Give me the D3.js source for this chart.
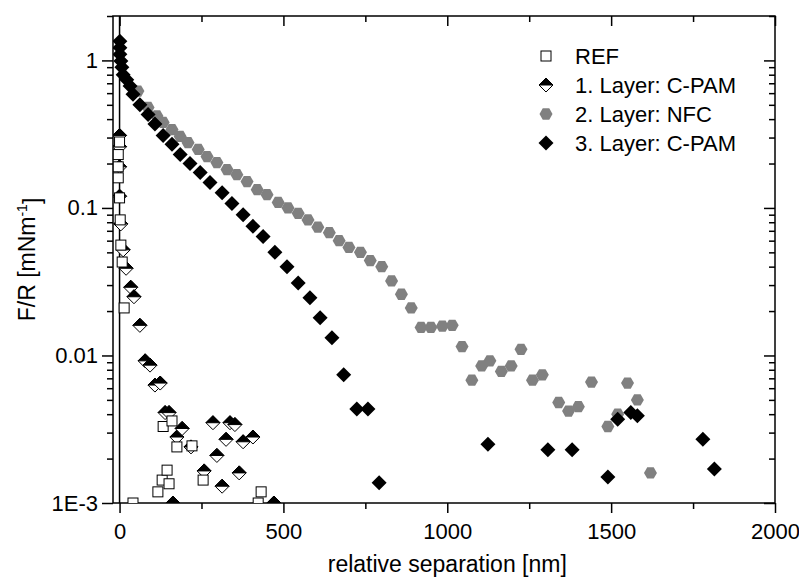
<!DOCTYPE html>
<html>
<head>
<meta charset="utf-8">
<script src="https://cdn.jsdelivr.net/npm/d3@7"></script>
<style>
	body { margin: 0; background: #fff; }
	svg { font-family: "Liberation Sans", Arial, sans-serif; }
</style>
</head>
<body>
<svg id="chart" width="799" height="579"></svg>
<script>
// reference (open squares)
var refData = [
	[0, 0.28], [-4, 0.23], [-4, 0.19], [-4, 0.16], [0, 0.117], [2, 0.083], [4, 0.056], [8, 0.043],
	[14, 0.021], [41, 0.001], [117, 0.00119], [130, 0.00143], [133, 0.0033], [145, 0.00167],
	[151, 0.00135], [160, 0.0036], [175, 0.0024], [221, 0.00244], [255, 0.00143], [423, 0.001], [432, 0.00119]
];
// 1. layer C-PAM (half filled diamonds)
var layer1Data = [
	[0, 0.31], [0, 0.26], [0, 0.19], [0, 0.12], [4, 0.078], [11, 0.052], [20, 0.039], [34, 0.029],
	[44, 0.025], [62, 0.016], [78, 0.0092], [93, 0.0086], [108, 0.0063], [124, 0.0065], [139, 0.0041],
	[151, 0.0041], [163, 0.001], [175, 0.0028], [191, 0.0032], [218, 0.0024], [258, 0.00165], [285, 0.0035],
	[297, 0.0021], [313, 0.0013], [325, 0.0027], [337, 0.0035], [352, 0.0034], [365, 0.0016], [377, 0.0026],
	[407, 0.0028], [471, 0.001]
];
// 2. layer NFC (grey hexagons)
var layer2Data = [
	[56, 0.62], [87, 0.48], [114, 0.42], [133, 0.38], [160, 0.34], [185, 0.305], [209, 0.277], [240, 0.249],
	[267, 0.223], [297, 0.203], [328, 0.182], [358, 0.168], [389, 0.151], [420, 0.133], [450, 0.123],
	[484, 0.109], [514, 0.100], [545, 0.092], [575, 0.083], [605, 0.074], [640, 0.068], [670, 0.060],
	[700, 0.054], [735, 0.050], [765, 0.044], [800, 0.040], [830, 0.032], [860, 0.026], [890, 0.021],
	[920, 0.0155], [950, 0.0155], [985, 0.0158], [1015, 0.016], [1045, 0.0115], [1075, 0.0068],
	[1105, 0.0085], [1130, 0.0092], [1165, 0.0078], [1195, 0.0085], [1225, 0.011], [1260, 0.0068],
	[1290, 0.0074], [1340, 0.0048], [1370, 0.0042], [1400, 0.0045], [1440, 0.0066], [1490, 0.0033],
	[1520, 0.004], [1550, 0.0065], [1580, 0.005], [1620, 0.0016]
];
// 3. layer C-PAM (black diamonds)
var layer3Data = [
	[1, 1.35], [1, 1.22], [1, 1.10], [4, 0.99], [7, 0.90], [11, 0.80], [22, 0.74], [32, 0.67], [41, 0.59],
	[62, 0.50], [87, 0.43], [108, 0.37], [133, 0.31], [160, 0.27], [185, 0.23], [215, 0.20], [246, 0.174],
	[276, 0.149], [313, 0.127], [343, 0.107], [377, 0.090], [407, 0.075], [438, 0.064], [474, 0.050],
	[511, 0.040], [545, 0.031], [581, 0.0246], [612, 0.018], [648, 0.0132], [684, 0.0074], [724, 0.00434],
	[758, 0.00434], [792, 0.00137], [1124, 0.0025], [1307, 0.0023], [1381, 0.0023], [1490, 0.0015],
	[1520, 0.0037], [1560, 0.0041], [1580, 0.0039], [1780, 0.0027], [1815, 0.0017]
];
var xTicks = [0, 500, 1000, 1500, 2000];
var yTicks = [1e-3, 1e-2, 1e-1, 1];
var yTickLabels = ["1E-3", "0.01", "0.1", "1"];
var legendNames = ["REF", "1. Layer: C-PAM", "2. Layer: NFC", "3. Layer: C-PAM"];

var margin = {top: 16, right: 24, bottom: 76, left: 113};
var width = 775 - margin.left,
	height = 503 - margin.top;

var svg = d3.select("#chart");

var x = d3.scaleLinear()
	.domain([-20, 2000])
	.range([0, width]);

var y = d3.scaleLog()
	.domain([1e-3, 2])
	.range([height, 0]);

var g = svg.append("g")
	.attr("transform", "translate(" + margin.left + "," + margin.top + ")");

// minor ticks
var yMinor = [];
[1e-3, 1e-2, 1e-1, 1].forEach(function(d) {
	for (var k = 2; k <= 9; k++) {
		if (d * k <= 2) yMinor.push(d * k);
	}
});
var xMinor = [250, 750, 1250, 1750];

var tickFont = 22;

// bottom axis
var xAxis = g.append("g")
	.attr("transform", "translate(0," + height + ")")
	.call(d3.axisBottom(x).tickValues(xTicks).tickSize(10).tickFormat(d3.format("d")));
g.append("g")
	.attr("transform", "translate(0," + height + ")")
	.call(d3.axisBottom(x).tickValues(xMinor).tickSize(6).tickFormat(""));
// top axis, ticks inward
g.append("g")
	.call(d3.axisBottom(x).tickValues(xTicks).tickSize(10).tickFormat(""));
g.append("g")
	.call(d3.axisBottom(x).tickValues(xMinor).tickSize(6).tickFormat(""));
// left axis
var yAxis = g.append("g")
	.call(d3.axisLeft(y).tickValues(yTicks).tickSize(11).tickFormat(function(d, i) { return yTickLabels[i]; }));
g.append("g")
	.call(d3.axisLeft(y).tickValues(yMinor).tickSize(6).tickFormat(""));
// right axis, ticks inward
g.append("g")
	.attr("transform", "translate(" + width + ",0)")
	.call(d3.axisLeft(y).tickValues(yTicks).tickSize(11).tickFormat(""));
g.append("g")
	.attr("transform", "translate(" + width + ",0)")
	.call(d3.axisLeft(y).tickValues(yMinor).tickSize(6).tickFormat(""));

g.selectAll(".domain").remove();
g.selectAll(".tick line").attr("stroke", "#000").attr("stroke-width", 1.5);
g.selectAll(".tick text")
	.attr("fill", "#000")
	.style("font-size", tickFont + "px");
xAxis.selectAll(".tick text").attr("dy", "1.05em");
yAxis.selectAll(".tick text").attr("x", -15);

// frame
g.append("rect")
	.attr("width", width)
	.attr("height", height)
	.attr("fill", "none")
	.attr("stroke", "#000")
	.attr("stroke-width", 1.5);

// zero line
g.append("line")
	.attr("x1", x(0)).attr("x2", x(0))
	.attr("y1", 0).attr("y2", height)
	.attr("stroke", "#000")
	.attr("stroke-width", 1.5);

// axis titles
svg.append("text")
	.attr("x", margin.left + x(1000))
	.attr("y", 572)
	.attr("text-anchor", "middle")
	.style("font-size", "23px")
	.text("relative separation [nm]");

var yTitle = svg.append("text")
	.attr("transform", "translate(35," + (margin.top + height / 2) + ") rotate(-90)")
	.attr("text-anchor", "middle")
	.style("font-size", "23px");
yTitle.append("tspan").text("F/R [mNm");
yTitle.append("tspan").attr("dy", "-0.6em").style("font-size", "14px").text("-1");
yTitle.append("tspan").attr("dy", "0.6em").text("]");

// clip for the markers
svg.append("clipPath").attr("id", "plotclip")
	.append("rect").attr("width", width).attr("height", height);

var plot = g.append("g").attr("clip-path", "url(#plotclip)");

// marker shapes
function squareMark(sel) {
	sel.append("rect")
		.attr("x", -5).attr("y", -5).attr("width", 10).attr("height", 10)
		.attr("fill", "#fff").attr("stroke", "#000").attr("stroke-width", 1);
}
function halfDiamondMark(sel) {
	sel.append("path")
		.attr("d", "M0,-7L7,0L0,7L-7,0Z")
		.attr("fill", "#fff").attr("stroke", "#000").attr("stroke-width", 1);
	sel.append("path")
		.attr("d", "M-7,0L0,-7L7,0Z")
		.attr("fill", "#000").attr("stroke", "#000").attr("stroke-width", 1);
}
function hexMark(sel) {
	var r = 6.5;
	var pts = d3.range(6).map(function(i) {
		var a = Math.PI / 3 * i;
		return [r * Math.cos(a), r * Math.sin(a)];
	});
	sel.append("path")
		.attr("d", "M" + pts.join("L") + "Z")
		.attr("fill", "#808080");
}
function diamondMark(sel) {
	sel.append("path")
		.attr("d", "M0,-7.5L7.5,0L0,7.5L-7.5,0Z")
		.attr("fill", "#000");
}

var series = [
	{ data: layer2Data, mark: hexMark },
	{ data: layer3Data, mark: diamondMark },
	{ data: layer1Data, mark: halfDiamondMark },
	{ data: refData, mark: squareMark }
];

series.forEach(function(s) {
	plot.append("g").selectAll("g")
		.data(s.data)
		.enter().append("g")
		.attr("transform", function(d) { return "translate(" + x(d[0]) + "," + y(d[1]) + ")"; })
		.each(function() { s.mark(d3.select(this)); });
});

// legend
var legendMarks = [squareMark, halfDiamondMark, hexMark, diamondMark];
var legend = svg.append("g")
	.selectAll("g")
	.data(legendNames)
	.enter().append("g")
	.attr("transform", function(d, i) { return "translate(546," + (56 + i * 29) + ")"; });
legend.each(function(d, i) { legendMarks[i](d3.select(this)); });
legend.append("text")
	.attr("x", 29)
	.attr("dy", "0.36em")
	.style("font-size", "22px")
	.text(function(d) { return d; });
</script>
</body>
</html>
